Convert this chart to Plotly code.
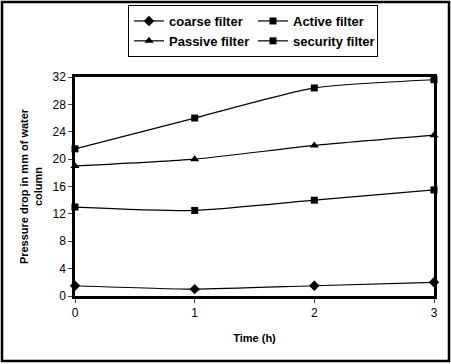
import plotly.graph_objects as go

time_h = [0, 1, 2, 3]
coarse = [1.5, 1.0, 1.5, 2.0]
active = [13.0, 12.5, 14.0, 15.5]
passive = [19.0, 20.0, 22.0, 23.5]
security = [21.5, 26.0, 30.4, 31.6]
y_ticks = [0, 4, 8, 12, 16, 20, 24, 28, 32]

W, H = 451, 364
L, R, T, B = 75, 17, 77, 68
pw, ph = W - L - R, H - T - B

fig = go.Figure()
series = [("coarse filter", coarse, "diamond", 8),
          ("Active filter", active, "square", 7),
          ("Passive filter", passive, "triangle-up", 8),
          ("security filter", security, "square", 7)]
for name, vals, sym, sz in series:
    fig.add_trace(go.Scatter(x=time_h, y=vals, name=name, mode="lines+markers",
                             line=dict(color="black", width=1.2, shape="spline", smoothing=0.6),
                             marker=dict(symbol=sym, size=sz, color="black"),
                             cliponaxis=False))

def px2paper_x(p):
    return (p - L) / pw

def px2paper_y(p):
    return (H - B - p) / ph

fig.add_shape(type="rect", xref="paper", yref="paper",
              x0=px2paper_x(2), x1=px2paper_x(449), y0=px2paper_y(361), y1=px2paper_y(2),
              line=dict(color="black", width=2.5))

fig.update_layout(
    width=W, height=H, margin=dict(l=L, r=R, t=T, b=B, autoexpand=False),
    paper_bgcolor="white", plot_bgcolor="white",
    font=dict(family="Liberation Sans, Arial", size=12, color="black"),
    showlegend=True,
    legend=dict(orientation="h", x=px2paper_x(253), xanchor="center", y=px2paper_y(5), yanchor="top",
                entrywidth=79, entrywidthmode="pixels", traceorder="normal",
                bordercolor="black", borderwidth=1,
                font=dict(size=13, family="Liberation Sans, Arial", weight="bold"),
                itemwidth=30, tracegroupgap=0),
    xaxis=dict(range=[0, 3], tickvals=time_h, ticks="outside", ticklen=4,
               showgrid=False, zeroline=False, showline=True, linecolor="black", linewidth=2.5,
               mirror=True,
               title=dict(text="<b>Time (h)</b>", font=dict(size=11), standoff=16)),
    yaxis=dict(range=[0, 32], tickvals=y_ticks, ticks="outside", ticklen=4,
               showgrid=False, zeroline=False, showline=True, linecolor="black", linewidth=2.5,
               mirror=True,
               title=dict(text="<b>Pressure drop in mm of water<br>column</b>", font=dict(size=11), standoff=8)),
)

fig.write_html("out.html")
